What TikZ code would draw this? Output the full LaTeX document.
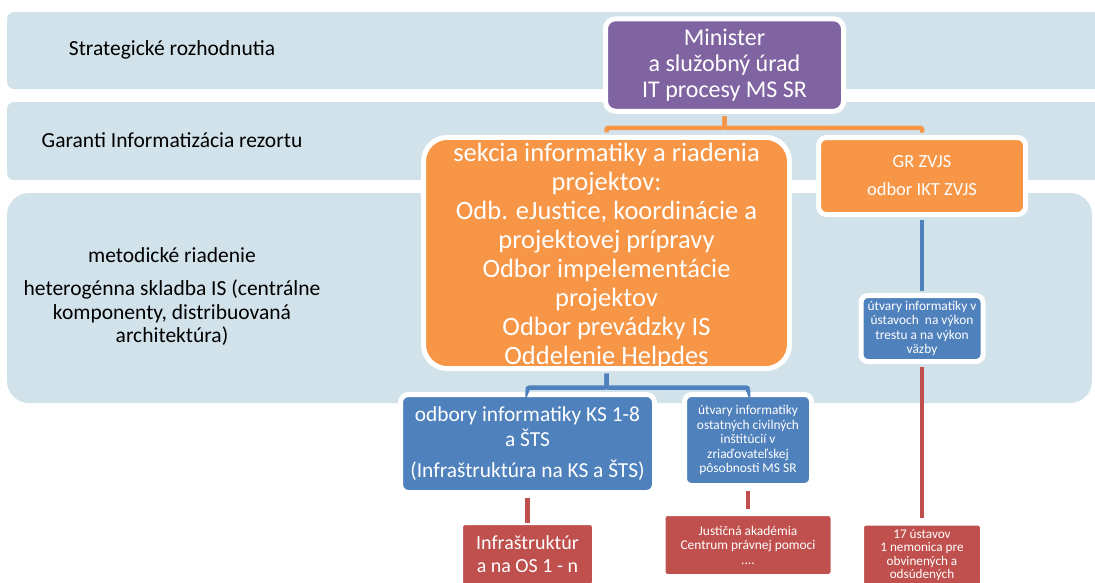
\documentclass[tikz,border=0pt]{standalone}
\usepackage{fontspec}
\setmainfont{Carlito}
\usetikzlibrary{positioning}
\definecolor{bandblue}{RGB}{209,226,234}
\definecolor{minpurple}{RGB}{128,100,162}
\definecolor{secorange}{RGB}{247,150,70}
\definecolor{unitblue}{RGB}{79,129,189}
\definecolor{sitered}{RGB}{192,80,77}
\begin{document}
\begin{tikzpicture}[x=1pt, y=-1pt,
      band/.style = {fill=bandblue, rounded corners=7pt},
       box/.style = {rectangle, draw=white, line width=5pt, rounded corners=8pt,
                     text=white, align=center, inner sep=0pt},
       lvl/.style = {align=center, text=black, font={\fontsize{21.5}{23.5}\selectfont}},
     small/.style = {font={\fontsize{13.4}{14.5}\selectfont}},
      link/.style = {line width=4.5pt, rounded corners=2pt, shorten <=2.5pt, shorten >=2.5pt}
                    ]
\clip (0,0) rectangle (1095,582);
% bands
\fill[band] (7,12) rectangle (1110,89);
\fill[band] (7,102) rectangle (1110,180);
\fill[band, rounded corners=22pt] (7,193) rectangle (1092,403);
\node (strat) [lvl] at (172,50) {Strategické rozhodnutia};
\node (garant) [lvl] at (172,140) {Garanti Informatizácia rezortu};
\node (metod) [lvl] at (172,297) {metodické riadenie\\[9.5pt]heterogénna skladba IS (centrálne\\komponenty, distribuovaná\\architektúra)};
% boxes
\node (min) [box, fill=minpurple, rounded corners=10pt, minimum width=238pt, minimum height=92.5pt,
             font={\fontsize{24}{26}\selectfont}] at (724.5,65) {Minister\\a služobný úrad\\IT procesy MS SR};
\node (sek) [box, fill=secorange, rounded corners=24pt, minimum width=366pt, minimum height=229pt,
             font={\fontsize{26.5}{29}\selectfont}] at (606.5,253)
  {\rule{0pt}{24pt}sekcia informatiky a riadenia\\projektov:\\Odb. eJustice, koordinácie a\\projektovej prípravy\\Odbor impelementácie\\projektov\\Odbor prevádzky IS\\Oddelenie Helpdes};
\node (gr) [box, fill=secorange, minimum width=207pt, minimum height=77pt,
            font={\fontsize{18.5}{22}\selectfont}] at (922,176) {GR ZVJS\\[6pt]odbor IKT ZVJS};
\node (ustr) [box, small, fill=unitblue, rounded corners=7pt, minimum width=122pt, minimum height=66pt] at (922,328.5)
  {útvary informatiky v\\ústavoch~ na výkon\\trestu a na výkon\\väzby};
\node (odb) [box, fill=unitblue, minimum width=254pt, minimum height=98pt,
             font={\fontsize{21.4}{25}\selectfont}] at (527.5,443.5)
  {odbory informatiky KS 1-8\\a ŠTS\\[6pt](Infraštruktúra na KS a ŠTS)};
\node (civ) [box, small, fill=unitblue, rounded corners=7pt, minimum width=127pt, minimum height=91pt] at (748,440)
  {útvary informatiky\\ostatných civilných\\inštitúcií v\\zriaďovateľskej\\pôsobnosti MS SR};
\node (infra) [box, fill=sitered, rounded corners=4pt, minimum width=134pt, minimum height=64pt,
               font={\fontsize{20}{23}\selectfont}] at (527.5,554.5) {Infraštruktúr\\a na OS 1 - n};
\node (just) [box, small, fill=sitered, rounded corners=4pt, minimum width=170pt, minimum height=63pt] at (748,545)
  {Justičná akadémia\\Centrum právnej pomoci\\....};
\node (ust17) [box, small, fill=sitered, rounded corners=4pt, minimum width=121pt, minimum height=64pt,
               font={\fontsize{13.2}{13.5}\selectfont}] at (922,555)
  {17 ústavov\\1 nemonica pre\\obvinených a\\odsúdených};
% links
\draw[link, secorange] (min.south) -- ++(0,14) -| (sek.north);
\draw[link, secorange] (min.south) -- ++(0,14) -| (gr.north);
\draw[link, unitblue] (sek.south) -- ++(0,16.5) -| (odb.north);
\draw[link, unitblue] (sek.south) -- ++(0,16.5) -| (civ.north);
\draw[link, unitblue] (gr.south) -- (ustr.north);
\draw[link, sitered, shorten >=-2.5pt] (odb.south) -- (infra.north);
\draw[link, sitered] (civ.south) -- (just.north);
\draw[link, sitered] (ustr.south) -- (ust17.north);
\end{tikzpicture}
\end{document}
